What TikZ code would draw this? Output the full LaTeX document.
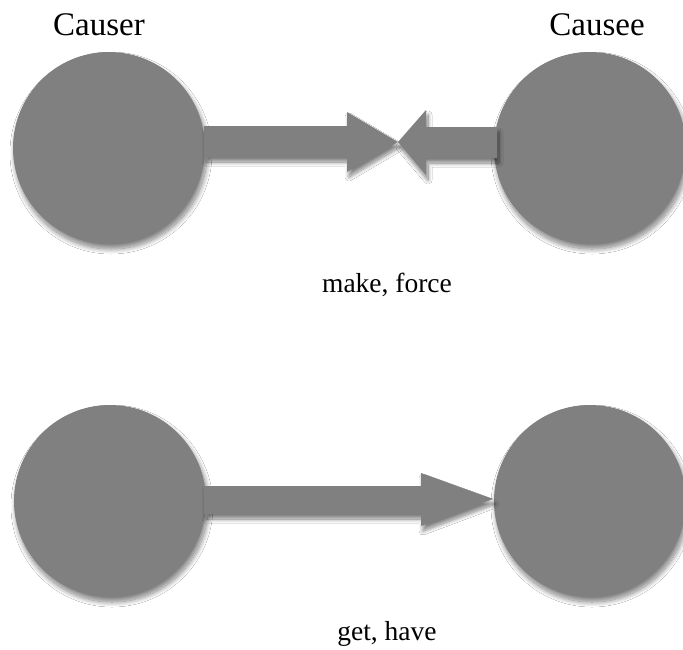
\documentclass[tikz,border=0pt]{standalone}
\usepackage{fontspec}
\setmainfont{Liberation Serif}
\usetikzlibrary{shadows.blur}
\definecolor{shapegray}{RGB}{128,128,128}
\tikzset{
  ball/.style={circle, fill=shapegray, minimum size=192pt, inner sep=0pt,
    blur shadow={shadow xshift=2pt, shadow yshift=-5pt, shadow blur radius=5pt, shadow blur steps=12, shadow opacity=50}},
  blockarrow/.style={fill=shapegray,
    blur shadow={shadow xshift=2pt, shadow yshift=-5pt, shadow blur radius=4pt, shadow blur steps=10, shadow opacity=50}},
  title/.style={font=\fontsize{33}{40}\selectfont, anchor=base, inner sep=0pt},
  caption/.style={font=\fontsize{27.5}{33}\selectfont, anchor=base, inner sep=0pt}
}
\begin{document}
\begin{tikzpicture}[x=1pt, y=-1pt]
\useasboundingbox[fill=white] (0,0) rectangle (683,649);
% top row
\node[ball] (causer) at (109,148) {};
\node[ball] (causee) at (590,148) {};
\node[title] (tcauser) at (99,35) {Causer};
\node[title] (tcausee) at (597,35) {Causee};
\coordinate (meet) at (398,142);
\fill[blockarrow] (204,126) -- (347,126) -- (347,112) -- (meet) -- (347,172) -- (347,157) -- (204,157) -- cycle;
\fill[blockarrow] (497,127) -- (426,127) -- (426,110) -- (meet) -- (426,175) -- (426,158) -- (497,158) -- cycle;
\node[caption] (make) at (387,292) {make, force};
% bottom row
\node[ball] (causer2) at (110,501) {};
\node[ball] (causee2) at (590,501) {};
\coordinate (tip) at (493,499);
\fill[blockarrow] (204,486) -- (421,486) -- (421,473) -- (tip) -- (421,526) -- (421,514) -- (204,514) -- cycle;
\node[caption] (get) at (387,640) {get, have};
\end{tikzpicture}
\end{document}
